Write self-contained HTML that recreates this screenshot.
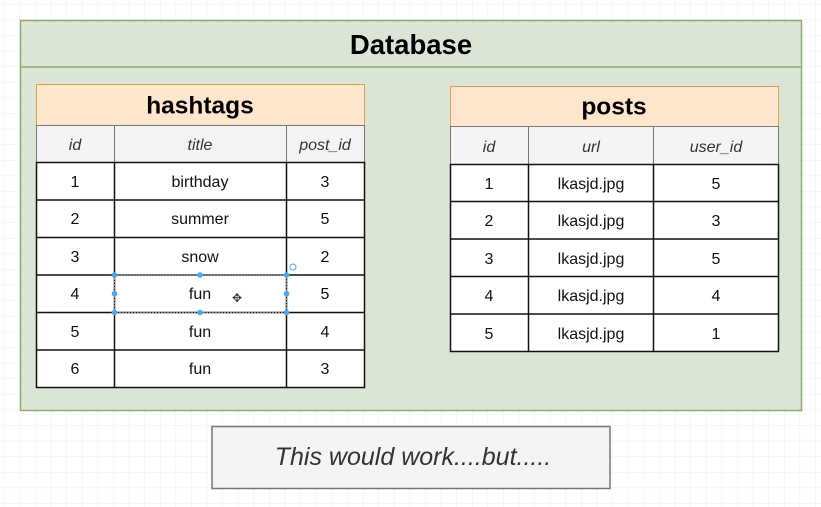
<!DOCTYPE html>
<html><head><meta charset="utf-8"><style>
html,body{margin:0;padding:0;width:821px;height:507px;overflow:hidden;background:#fff;}
svg{display:block;font-family:"Liberation Sans",Arial,sans-serif;}
</style></head><body>
<svg width="821" height="507" viewBox="0 0 821 507" xmlns="http://www.w3.org/2000/svg">
<defs>
<pattern id="g" x="4" y="4" width="15.6" height="15.6" patternUnits="userSpaceOnUse">
<path d="M0 0H15.6M0 0V15.6" stroke="#ececec" stroke-width="1" fill="none"/>
</pattern>
</defs>
<rect width="821" height="507" fill="#fff"/>
<rect width="821" height="507" fill="url(#g)"/>
<!-- database -->
<rect x="20.5" y="20.5" width="781" height="390" fill="#dae5d6" stroke="#89ad6f" stroke-width="1.5"/>
<line x1="20" y1="67" x2="802" y2="67" stroke="#89ad6f" stroke-width="1.5"/>
<text x="411" y="54" font-size="27.5" font-weight="bold" text-anchor="middle" fill="#000">Database</text>

<!-- hashtags -->
<rect x="36.5" y="84.5" width="328" height="41" fill="#ffe6cc" stroke="#dba146" stroke-width="1"/>
<text x="200" y="113.5" font-size="24.5" font-weight="bold" text-anchor="middle">hashtags</text>
<rect x="36.5" y="125.5" width="328" height="37" fill="#f4f4f6" stroke="#777" stroke-width="1"/>
<line x1="114.5" y1="125" x2="114.5" y2="162" stroke="#777"/>
<line x1="286.5" y1="125" x2="286.5" y2="162" stroke="#777"/>
<g font-size="16" font-style="italic" fill="#333" text-anchor="middle">
<text x="75" y="150">id</text><text x="200" y="150">title</text><text x="325" y="150">post_id</text>
</g>
<rect x="36.5" y="162.5" width="328" height="225" fill="#fff" stroke="#111" stroke-width="1.5"/>
<g stroke="#111" stroke-width="1.5">
<line x1="36" y1="200" x2="365" y2="200"/><line x1="36" y1="237.5" x2="365" y2="237.5"/>
<line x1="36" y1="275" x2="365" y2="275"/><line x1="36" y1="312.5" x2="365" y2="312.5"/>
<line x1="36" y1="350" x2="365" y2="350"/>
<line x1="114.5" y1="162" x2="114.5" y2="388"/><line x1="286.5" y1="162" x2="286.5" y2="388"/>
</g>
<g font-size="16" fill="#111" text-anchor="middle">
<text x="75" y="187">1</text><text x="200" y="187">birthday</text><text x="325" y="187">3</text>
<text x="75" y="224">2</text><text x="200" y="224">summer</text><text x="325" y="224">5</text>
<text x="75" y="262">3</text><text x="200" y="262">snow</text><text x="325" y="262">2</text>
<text x="75" y="299">4</text><text x="200" y="299">fun</text><text x="325" y="299">5</text>
<text x="75" y="337">5</text><text x="200" y="337">fun</text><text x="325" y="337">4</text>
<text x="75" y="374">6</text><text x="200" y="374">fun</text><text x="325" y="374">3</text>
</g>
<!-- selection -->
<rect x="114.5" y="275" width="172" height="37.5" fill="none" stroke="#888" stroke-dasharray="2,1"/>
<g fill="#4aa8f0">
<circle cx="114.5" cy="275" r="2.8"/><circle cx="200" cy="275" r="2.8"/><circle cx="286.5" cy="275" r="2.8"/>
<circle cx="114.5" cy="293.7" r="2.8"/><circle cx="286.5" cy="293.7" r="2.8"/>
<circle cx="114.5" cy="312.5" r="2.8"/><circle cx="200" cy="312.5" r="2.8"/><circle cx="286.5" cy="312.5" r="2.8"/>
</g>
<circle cx="293" cy="267" r="3" fill="none" stroke="#4aa8f0" stroke-width="1"/>
<text x="237" y="302" font-size="12" text-anchor="middle" fill="#333">✥</text>

<!-- posts -->
<rect x="450.5" y="86.5" width="328" height="40" fill="#ffe6cc" stroke="#dba146" stroke-width="1"/>
<text x="614" y="114.5" font-size="24.5" font-weight="bold" text-anchor="middle">posts</text>
<rect x="450.5" y="126.5" width="328" height="38" fill="#f4f4f6" stroke="#777" stroke-width="1"/>
<line x1="528.5" y1="126" x2="528.5" y2="164" stroke="#777"/>
<line x1="653.5" y1="126" x2="653.5" y2="164" stroke="#777"/>
<g font-size="16" font-style="italic" fill="#333" text-anchor="middle">
<text x="489" y="152">id</text><text x="591" y="152">url</text><text x="716" y="152">user_id</text>
</g>
<rect x="450.5" y="164.5" width="328" height="187" fill="#fff" stroke="#111" stroke-width="1.5"/>
<g stroke="#111" stroke-width="1.5">
<line x1="450" y1="201.5" x2="779" y2="201.5"/><line x1="450" y1="239" x2="779" y2="239"/>
<line x1="450" y1="276.5" x2="779" y2="276.5"/><line x1="450" y1="314" x2="779" y2="314"/>
<line x1="528.5" y1="164" x2="528.5" y2="352"/><line x1="653.5" y1="164" x2="653.5" y2="352"/>
</g>
<g font-size="16" fill="#111" text-anchor="middle">
<text x="489" y="189">1</text><text x="591" y="189">lkasjd.jpg</text><text x="716" y="189">5</text>
<text x="489" y="226">2</text><text x="591" y="226">lkasjd.jpg</text><text x="716" y="226">3</text>
<text x="489" y="264">3</text><text x="591" y="264">lkasjd.jpg</text><text x="716" y="264">5</text>
<text x="489" y="301">4</text><text x="591" y="301">lkasjd.jpg</text><text x="716" y="301">4</text>
<text x="489" y="339">5</text><text x="591" y="339">lkasjd.jpg</text><text x="716" y="339">1</text>
</g>

<!-- note -->
<rect x="212" y="426.5" width="398" height="62" fill="#f4f4f6" stroke="#777" stroke-width="1.5"/>
<text x="413" y="465" font-size="25" font-style="italic" fill="#333" text-anchor="middle">This would work....but.....</text>
</svg>
</body></html>
